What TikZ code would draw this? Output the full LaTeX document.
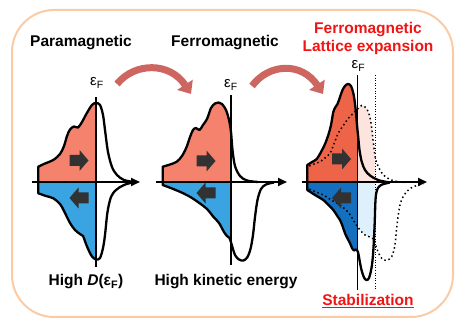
\documentclass[tikz,border=0pt]{standalone}
\usepackage{fontspec}
\setmainfont{Liberation Sans}
\usetikzlibrary{arrows.meta}

\definecolor{framecol}{RGB}{250,203,165}
\definecolor{upcol}{RGB}{244,130,108}
\definecolor{dncol}{RGB}{58,163,226}
\definecolor{upcolB}{RGB}{238,100,72}
\definecolor{dncolB}{RGB}{20,112,190}
\definecolor{pinkcol}{RGB}{253,228,222}
\definecolor{palecol}{RGB}{221,240,252}
\definecolor{arrowred}{RGB}{205,102,96}
\definecolor{spincol}{RGB}{50,50,50}
\definecolor{labred}{RGB}{240,20,20}

\begin{document}
\begin{tikzpicture}[x=1pt,y=-1pt,
  framebox/.style={draw=framecol, line width=2pt, rounded corners=42pt},
  curve/.style={line width=2.3pt, line join=round},
  dotcurve/.style={line width=1.5pt, dash pattern=on 1.5pt off 2.8pt},
  axis/.style={line width=2pt, -{Triangle[length=9pt,width=8pt]}},
  fermi/.style={line width=1.1pt},
  title/.style={font=\fontsize{15.5}{18}\selectfont\bfseries},
  redtitle/.style={title, text=labred, align=center},
  efermi/.style={font=\fontsize{15}{15}\selectfont},
  bigarrow/.style={line width=7pt, draw=arrowred, -{Triangle[length=11pt,width=18pt]}},
  spin/.pic={\fill[spincol] (-9.5,-5.5) -- (0.5,-5.5) -- (0.5,-10.5) -- (9.5,0)
    -- (0.5,10.5) -- (0.5,5.5) -- (-9.5,5.5) -- cycle;}]
\useasboundingbox (0,0) rectangle (463,328);

% curves: spin up / spin down, one pair per panel
\def\upA{(38.3,182) -- plot[smooth,tension=0.55] coordinates {(38.3,166.7) (45,163.5)
  (53.3,160) (60,154) (64,146) (67,136) (70,129.5) (74,126.5) (78,127.5) (82,122)
  (86.7,113.3) (92,105) (96,103) (100,105) (103,115) (105,130) (108,152) (112,167)
  (117,175) (124,180) (134,182)}}
\def\dnA{(38.3,182) -- plot[smooth,tension=0.55] coordinates {(38.3,193.3) (46,196)
  (53.3,198.3) (60,204) (64,211) (70,223) (75,230) (80,234) (83,236) (86,244)
  (89,251) (92,256.5) (96,259.5) (100,258) (103,248) (105,235) (107.5,212) (111,197)
  (116,190) (124,185) (134,182)}}
\def\upB{(162.7,182) -- plot[smooth,tension=0.55] coordinates {(162.7,166.7)
  (170,164.5) (176.7,161.7) (182,156) (186.7,146.7) (190,137) (193,130) (196,128)
  (199.5,130) (203,125) (207,119) (211,108) (215,103.5) (218.5,102.5) (222,104)
  (226,110) (229,120) (231,132) (232.5,150) (235,166) (240,176) (247,180.5) (258,182)}}
\def\dnB{(162.7,182) -- plot[smooth,tension=0.55] coordinates {(162.7,185)
  (172,188.5) (183.3,193.3) (192,198) (200,203.5) (207,209) (213.3,216.7) (219,223)
  (224,232) (227,236) (229.5,238) (231.5,244) (235,255) (239,259.5) (243.5,260.5)
  (247.5,257) (250.5,249) (253,235) (255,217) (257.5,200) (261,189) (266,184.5)
  (274,182.5)}}
\def\upC{(307.3,182) -- plot[smooth,tension=0.55] coordinates {(307.3,165) (312,162)
  (316.7,159) (321,152) (325,144) (328.3,135) (331,125) (333.3,112) (335.5,107)
  (337.5,104) (340,97) (342.5,90) (345,86) (348,84) (351,86) (353.5,94) (355.5,108)
  (357,125) (358.5,140) (359.5,150) (361.7,161.7) (365,170) (370,175.5) (378,180)
  (388,182.2)}}
\def\dnC{(307.3,182) -- plot[smooth,tension=0.55] coordinates {(307.3,190) (315,195)
  (323.3,200) (328,204.5) (333.3,210) (337,215.5) (340,220) (342.5,226) (345,233.3)
  (347.5,238.5) (350,243.3) (352,248) (354,250.5) (356,249.5) (358,252) (359.5,260)
  (361.5,270) (364,277.5) (366.5,280) (369,278) (371.5,268) (373,255) (374,238)
  (374.8,220) (375.5,200) (377,190) (381,185) (390,182.5)}}
\def\dotUp{(307.3,182) -- plot[smooth,tension=0.55] coordinates {(307.3,167)
  (314,164) (320,161.7) (325,158) (330,153.3) (333.5,145) (336.7,136.7) (340,130)
  (343,126) (348.3,118.3) (353.3,113.3) (358.3,108.3) (361.7,105.5) (365,107)
  (368.3,111.7) (370.5,120) (371.7,128.3) (373,140) (374,148) (375,156) (376.7,163)
  (380,170) (384,175.5) (390,179.5) (397,181.5) (405,182.3)}}
\def\dotDn{(307.3,182) -- plot[smooth,tension=0.55] coordinates {(307.3,188.3)
  (315,191.5) (323.3,195) (332,200.5) (340,205) (347,211) (351,216) (355,223)
  (360,230) (365,235) (370,237) (373.3,239) (376.7,248.3) (379,254) (381.7,258.3)
  (384,260) (386.7,260.5) (389.5,259) (391.7,256.7) (394,250) (395.3,242) (396.5,230)
  (398,217) (400,205) (403,197) (406.7,191.7) (411,188) (416.7,185.5) (423.3,183.5)}}

\coordinate (A1s) at (32,182);  \coordinate (A1e) at (140,182);
\coordinate (A2s) at (156,182); \coordinate (A2e) at (287,182);
\coordinate (A3s) at (302,182); \coordinate (A3e) at (427,182);
\coordinate (F1t) at (96,97);    \coordinate (F1b) at (96,267);
\coordinate (F2t) at (231,95);   \coordinate (F2b) at (231,265);
\coordinate (F3t) at (357.7,75); \coordinate (F3b) at (357.7,290);
\coordinate (D3t) at (375,75);   \coordinate (D3b) at (375,290);

\draw[framebox] (12,10) rectangle (453,317);

% panel 1: paramagnetic
\begin{scope}
  \clip (30,60) rectangle (96,182);
  \fill[upcol] \upA -- cycle;
\end{scope}
\begin{scope}
  \clip (30,182) rectangle (96,300);
  \fill[dncol] \dnA -- cycle;
\end{scope}
\draw[curve] \upA;
\draw[curve] \dnA;
\draw[fermi] (F1t) -- (F1b);
\draw[axis] (A1s) -- (A1e);
\pic at (79,160.5) {spin};
\pic[xscale=-1] at (79,198) {spin};

% panel 2: ferromagnetic
\begin{scope}
  \clip (150,60) rectangle (231,182);
  \fill[upcol] \upB -- cycle;
\end{scope}
\begin{scope}
  \clip (150,182) rectangle (231,300);
  \fill[dncol] \dnB -- cycle;
\end{scope}
\draw[curve] \upB;
\draw[curve] \dnB;
\draw[fermi] (F2t) -- (F2b);
\draw[axis] (A2s) -- (A2e);
\pic at (206,161) {spin};
\pic[xscale=-1] at (206,193) {spin};

% panel 3: expanded lattice
\begin{scope}
  \clip (357.7,60) rectangle (375,182);
  \fill[pinkcol] \dotUp -- cycle;
\end{scope}
\begin{scope}
  \clip (357.7,182) rectangle (375,300);
  \fill[palecol] \dotDn -- cycle;
\end{scope}
\begin{scope}
  \clip (300,60) rectangle (357.7,182);
  \fill[upcolB] \upC -- cycle;
\end{scope}
\begin{scope}
  \clip (300,182) rectangle (357.7,300);
  \fill[dncolB] \dnC -- cycle;
\end{scope}
\draw[dotcurve] \dotUp;
\draw[dotcurve] \dotDn;
\draw[curve] \upC;
\draw[curve] \dnC;
\draw[line width=0.8pt, dash pattern=on 1pt off 1.6pt] (D3t) -- (D3b);
\draw[fermi] (F3t) -- (F3b);
\draw[axis] (A3s) -- (A3e);
\pic at (341.5,159) {spin};
\pic[xscale=-1] at (341.5,198) {spin};

% transitions
\draw[bigarrow] (117,84) .. controls (135,62) and (170,62) .. (191,94);
\draw[bigarrow] (252,86) .. controls (269,63) and (302,62) .. (323,94);

% labels
\node[title] (tPara) at (81,43) {Paramagnetic};
\node[title] (tFerro) at (225,43) {Ferromagnetic};
\node[redtitle] (tLat) at (368,38) {Ferromagnetic\\Lattice expansion};
\node[title] (tHighD) at (86,282) {High \textit{D}(ε\textsubscript{F})};
\node[title] (tKin) at (226,282) {High kinetic energy};
\node[title, text=labred] (tStab) at (368,301) {\underline{Stabilization}};
\node[efermi] (ef1) at (97,83) {ε\textsubscript{F}};
\node[efermi] (ef2) at (231,85) {ε\textsubscript{F}};
\node[efermi] (ef3) at (358.5,66) {ε\textsubscript{F}};
\end{tikzpicture}
\end{document}
